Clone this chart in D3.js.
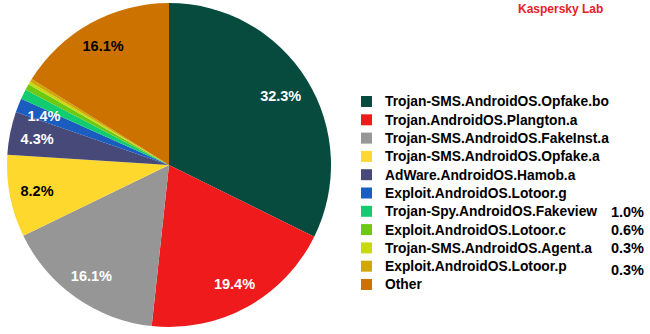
<!DOCTYPE html>
<html><head><meta charset="utf-8">
<script src="https://cdn.jsdelivr.net/npm/d3@7"></script>
<style>body{margin:0;background:#fff}svg{display:block}</style>
</head><body>
<svg id="c" width="650" height="334"></svg>
<script>
const categories = ["Trojan-SMS.AndroidOS.Opfake.bo","Trojan.AndroidOS.Plangton.a","Trojan-SMS.AndroidOS.FakeInst.a","Trojan-SMS.AndroidOS.Opfake.a","AdWare.AndroidOS.Hamob.a","Exploit.AndroidOS.Lotoor.g","Trojan-Spy.AndroidOS.Fakeview","Exploit.AndroidOS.Lotoor.c","Trojan-SMS.AndroidOS.Agent.a","Exploit.AndroidOS.Lotoor.p","Other"];
const values = [32.3,19.4,16.1,8.2,4.3,1.4,1.0,0.6,0.3,0.3,16.1];
const colors = ["#064b3e","#ee1a1c","#969696","#fed82d","#474a79","#1a5cc0","#13cc72","#6ec912","#c8d912","#d0a800","#cc7200"];
const pieLabelColors = ["#fff","#fff","#fff","#000","#fff","#fff",null,null,null,null,"#000"];
const legendPct = [null,null,null,null,null,null,"1.0%","0.6%","0.3%","0.3%",null];

const svg = d3.select("#c");
const font = "'Liberation Sans', Arial, sans-serif";
const cx = 169, cy = 165, R = 162;
const pie = d3.pie().sort(null).value(d => d)(values);
const arc = d3.arc().innerRadius(0).outerRadius(R);
const g = svg.append("g").attr("transform", `translate(${cx},${cy})`);
g.selectAll("path").data(pie).join("path")
  .attr("d", arc).attr("fill", (d,i) => colors[i]);

// "inside end" style labels: push each label box outward until its far corner nears the rim
const labels = g.selectAll("text").data(pie.filter((d,i)=>pieLabelColors[i])).join("text")
  .attr("text-anchor","middle").attr("dy","0.36em")
  .attr("font-family", font).attr("font-weight","bold").attr("font-size","14.5px")
  .attr("fill", d => pieLabelColors[d.index])
  .text(d => d.data.toFixed(1) + "%");
labels.each(function(d){
  const w = this.getComputedTextLength(), h = 11;
  const a = (d.startAngle + d.endAngle) / 2;
  const ux = Math.sin(a), uy = -Math.cos(a);
  let r = 60;
  for (let t = 60; t < R; t += 0.5) {
    const x = t*ux, y = t*uy;
    const far = Math.max(...[[-1,-1],[-1,1],[1,-1],[1,1]].map(([sx,sy]) => Math.hypot(x+sx*w/2, y+sy*h/2)));
    if (far > R - 10) break;
    r = t;
  }
  d3.select(this).attr("transform", `translate(${r*ux},${r*uy})`);
});

const y = d3.scalePoint().domain(d3.range(categories.length)).range([101.5, 284.5]);
const lg = svg.append("g");
categories.forEach((c,i) => {
  lg.append("rect").attr("x",361).attr("y",y(i)-5.5).attr("width",11).attr("height",11).attr("fill",colors[i]);
  lg.append("text").attr("x",385).attr("y",y(i)).attr("dy","0.36em")
    .attr("font-family",font).attr("font-weight","bold").attr("font-size","13.8px").attr("fill","#000").text(c);
  if (legendPct[i]) {
    lg.append("text").attr("x",644).attr("y",y(i) + (i===9?4:0)).attr("dy","0.36em").attr("text-anchor","end")
      .attr("font-family",font).attr("font-weight","bold").attr("font-size","14.5px").attr("fill","#000").text(legendPct[i]);
  }
});
svg.append("text").attr("x",518).attr("y",9).attr("dy","0.36em")
  .attr("font-family",font).attr("font-weight","bold").attr("font-size","12px").attr("fill","#e8202a").text("Kaspersky Lab");
</script>
</body></html>
